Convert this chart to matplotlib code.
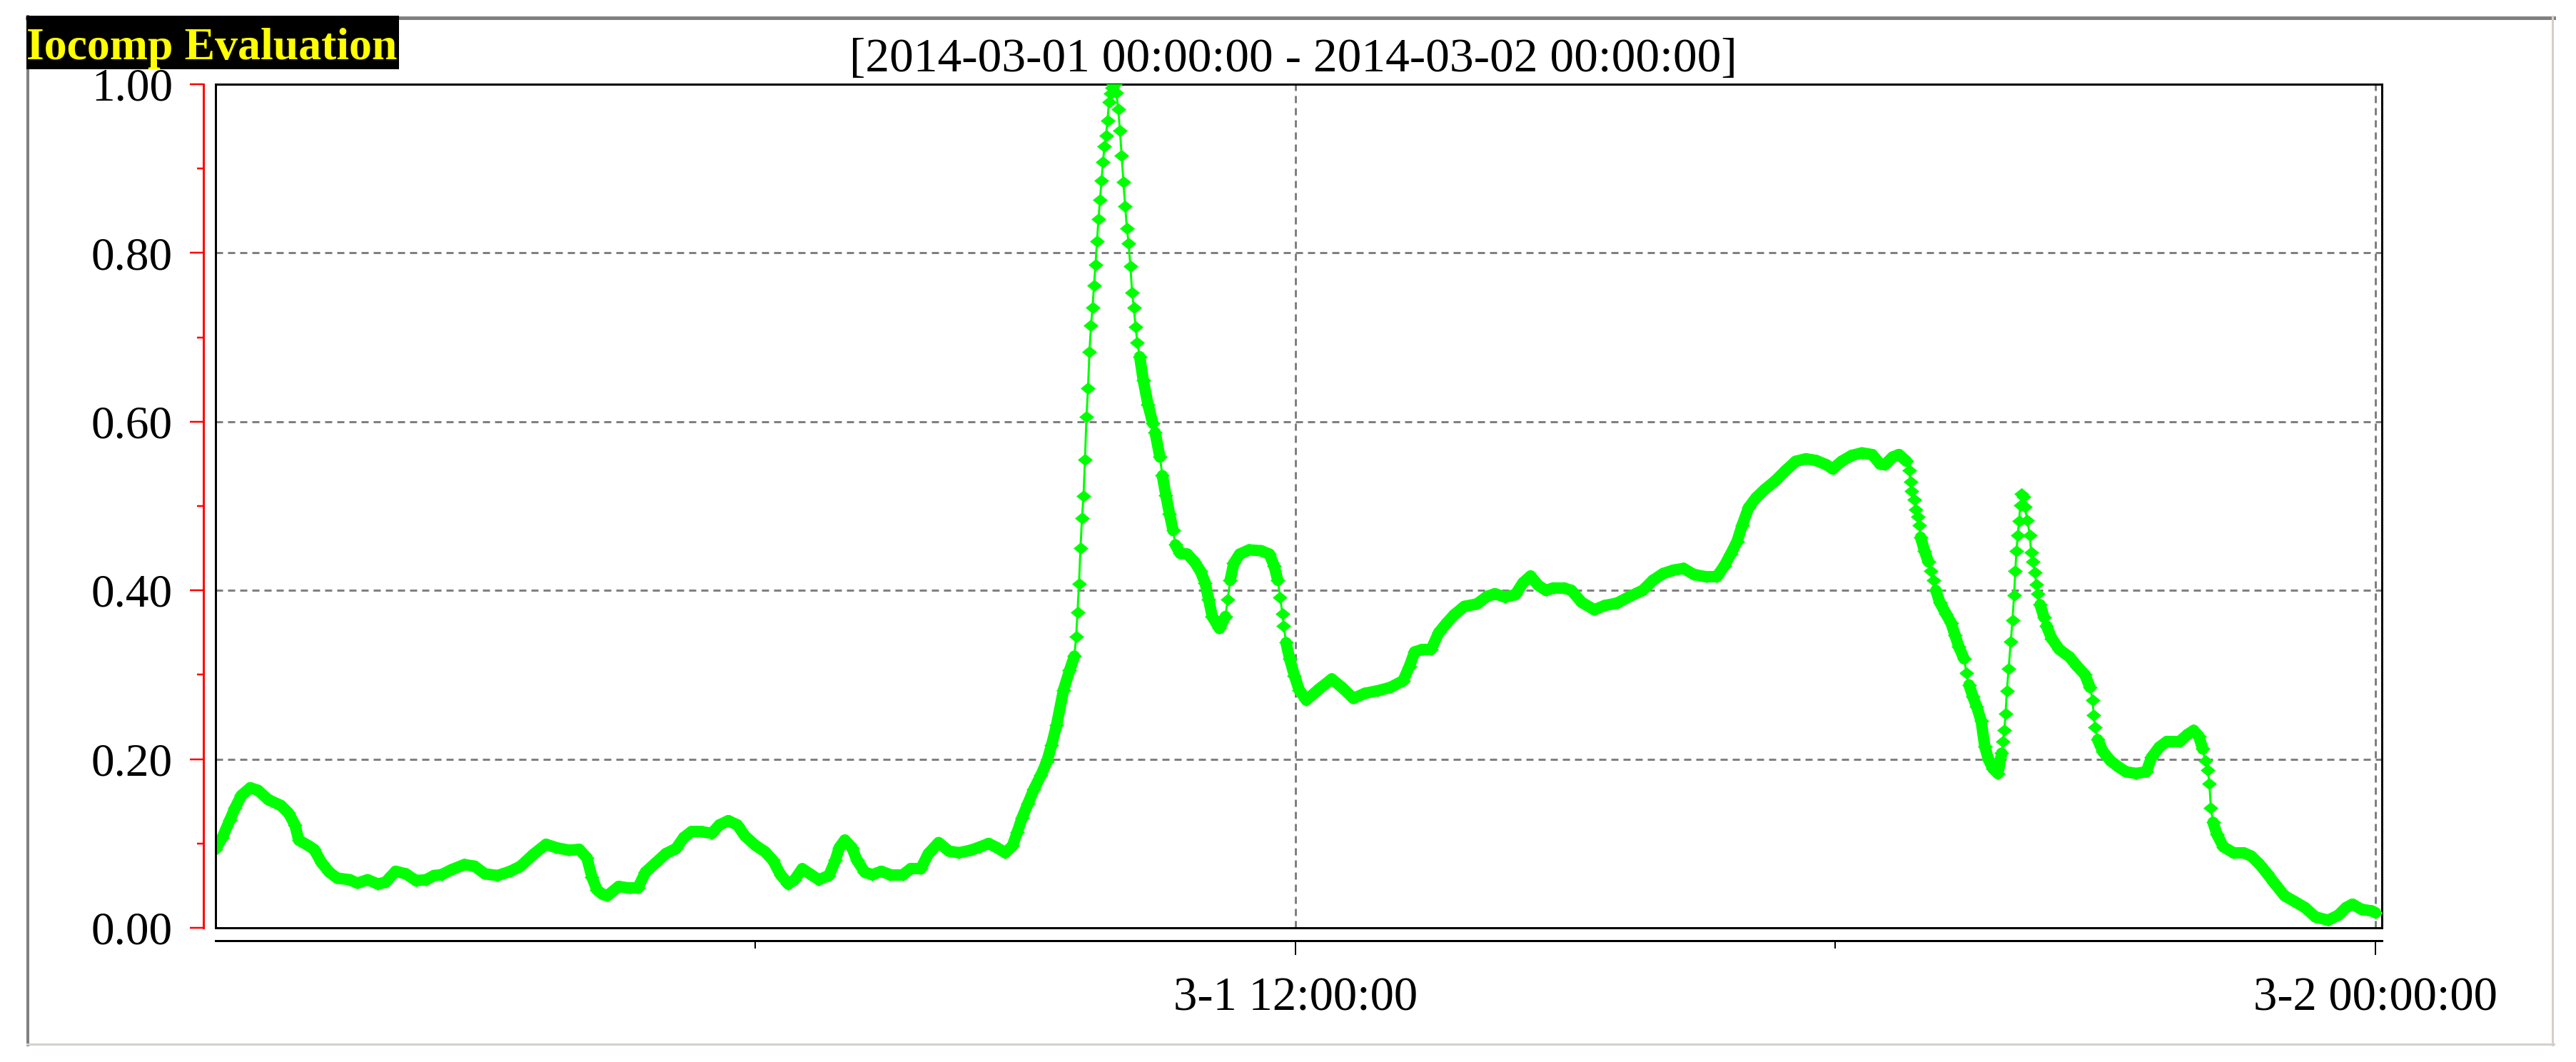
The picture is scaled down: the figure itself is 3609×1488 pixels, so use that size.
import matplotlib
matplotlib.use("Agg")
import matplotlib.pyplot as plt
from matplotlib.lines import Line2D
from matplotlib.patches import Rectangle
from matplotlib.collections import LineCollection

# ---------------- data ----------------
hours = [
    0.000, 0.079, 0.164, 0.220, 0.291, 0.390, 0.475, 0.589, 0.730, 0.815,
    0.886, 0.928, 1.042, 1.098, 1.183, 1.268, 1.353, 1.495, 1.580, 1.693,
    1.806, 1.891, 2.005, 2.118, 2.231, 2.344, 2.430, 2.514, 2.628, 2.769,
    2.883, 2.996, 3.137, 3.279, 3.392, 3.534, 3.676, 3.789, 3.931, 4.044,
    4.129, 4.186, 4.242, 4.300, 4.355, 4.483, 4.610, 4.695, 4.780, 4.894,
    5.007, 5.120, 5.205, 5.290, 5.403, 5.517, 5.602, 5.701, 5.800, 5.885,
    5.998, 6.111, 6.196, 6.281, 6.366, 6.437, 6.522, 6.621, 6.706, 6.819,
    6.890, 6.933, 6.995, 7.074, 7.131, 7.216, 7.301, 7.400, 7.499, 7.641,
    7.726, 7.839, 7.924, 8.037, 8.151, 8.262, 8.394, 8.500, 8.592, 8.685,
    8.778, 8.857, 8.910, 8.963, 9.029, 9.095, 9.174, 9.240, 9.293, 9.347,
    9.425, 9.492, 9.545, 9.565, 9.580, 9.597, 9.613, 9.630, 9.647, 9.663,
    9.680, 9.697, 9.713, 9.730, 9.747, 9.763, 9.780, 9.797, 9.813, 9.830,
    9.847, 9.863, 9.880, 9.897, 9.913, 9.930, 9.947, 9.963, 9.980, 9.997,
    10.013, 10.032, 10.052, 10.071, 10.090, 10.110, 10.129, 10.148, 10.168, 10.187,
    10.206, 10.226, 10.245, 10.271, 10.311, 10.364, 10.417, 10.443, 10.496, 10.523,
    10.562, 10.602, 10.642, 10.668, 10.721, 10.800, 10.879, 10.945, 10.998, 11.038,
    11.077, 11.157, 11.223, 11.249, 11.276, 11.316, 11.382, 11.487, 11.620, 11.712,
    11.765, 11.805, 11.831, 11.857, 11.871, 11.897, 11.937, 11.990, 12.043, 12.122,
    12.263, 12.405, 12.518, 12.645, 12.773, 12.914, 13.056, 13.198, 13.268, 13.325,
    13.410, 13.509, 13.594, 13.679, 13.764, 13.877, 14.019, 14.132, 14.217, 14.330,
    14.444, 14.529, 14.614, 14.699, 14.784, 14.869, 14.982, 15.067, 15.180, 15.322,
    15.435, 15.577, 15.718, 15.860, 15.973, 16.087, 16.200, 16.313, 16.426, 16.568,
    16.681, 16.766, 16.837, 16.908, 16.964, 17.035, 17.120, 17.219, 17.333, 17.446,
    17.559, 17.673, 17.786, 17.899, 17.970, 18.069, 18.182, 18.295, 18.409, 18.494,
    18.550, 18.635, 18.706, 18.791, 18.819, 18.835, 18.848, 18.876, 18.890, 18.918,
    18.933, 18.947, 18.990, 19.032, 19.060, 19.088, 19.117, 19.159, 19.230, 19.287,
    19.329, 19.372, 19.429, 19.457, 19.485, 19.528, 19.571, 19.620, 19.660, 19.700,
    19.749, 19.806, 19.848, 19.863, 19.877, 19.891, 19.905, 19.925, 19.948, 19.968,
    19.985, 19.999, 20.012, 20.026, 20.040, 20.055, 20.070, 20.087, 20.104, 20.133,
    20.161, 20.175, 20.190, 20.218, 20.232, 20.246, 20.275, 20.318, 20.346, 20.403,
    20.488, 20.602, 20.687, 20.773, 20.829, 20.858, 20.870, 20.886, 20.915, 20.972,
    21.057, 21.142, 21.228, 21.341, 21.455, 21.512, 21.597, 21.683, 21.825, 21.910,
    21.981, 22.038, 22.081, 22.109, 22.138, 22.155, 22.172, 22.196, 22.239, 22.310,
    22.424, 22.536, 22.621, 22.707, 22.792, 22.877, 22.991, 23.105, 23.218, 23.332,
    23.474, 23.588, 23.673, 23.745, 23.844, 23.958, 24.000,
]
values = [
    0.093, 0.107, 0.128, 0.142, 0.157, 0.166, 0.163, 0.152, 0.145, 0.136,
    0.122, 0.104, 0.097, 0.093, 0.077, 0.066, 0.059, 0.057, 0.053, 0.057,
    0.052, 0.054, 0.067, 0.064, 0.056, 0.057, 0.062, 0.063, 0.069, 0.075,
    0.073, 0.064, 0.062, 0.067, 0.073, 0.087, 0.099, 0.095, 0.092, 0.093,
    0.083, 0.060, 0.045, 0.040, 0.038, 0.049, 0.047, 0.047, 0.066, 0.077,
    0.088, 0.094, 0.107, 0.114, 0.114, 0.112, 0.122, 0.127, 0.122, 0.109,
    0.098, 0.090, 0.080, 0.063, 0.052, 0.057, 0.070, 0.063, 0.057, 0.062,
    0.080, 0.095, 0.104, 0.095, 0.080, 0.066, 0.063, 0.067, 0.063, 0.063,
    0.070, 0.070, 0.088, 0.101, 0.091, 0.089, 0.092, 0.096, 0.100, 0.095,
    0.089, 0.097, 0.113, 0.130, 0.147, 0.164, 0.181, 0.197, 0.217, 0.240,
    0.282, 0.305, 0.322, 0.345, 0.374, 0.408, 0.450, 0.486, 0.512, 0.555,
    0.606, 0.640, 0.683, 0.714, 0.735, 0.761, 0.786, 0.814, 0.840, 0.863,
    0.886, 0.908, 0.926, 0.939, 0.957, 0.979, 0.989, 0.996, 1.000, 1.000,
    0.990, 0.970, 0.945, 0.915, 0.884, 0.855, 0.829, 0.811, 0.784, 0.753,
    0.735, 0.712, 0.694, 0.677, 0.649, 0.620, 0.598, 0.587, 0.558, 0.536,
    0.513, 0.491, 0.471, 0.454, 0.444, 0.443, 0.434, 0.423, 0.409, 0.389,
    0.369, 0.355, 0.369, 0.389, 0.412, 0.432, 0.443, 0.448, 0.447, 0.443,
    0.429, 0.412, 0.392, 0.372, 0.358, 0.338, 0.319, 0.299, 0.282, 0.270,
    0.283, 0.295, 0.285, 0.272, 0.278, 0.281, 0.285, 0.293, 0.310, 0.327,
    0.330, 0.330, 0.350, 0.361, 0.371, 0.381, 0.384, 0.393, 0.396, 0.392,
    0.395, 0.409, 0.417, 0.406, 0.400, 0.403, 0.403, 0.400, 0.386, 0.377,
    0.382, 0.385, 0.393, 0.400, 0.412, 0.420, 0.424, 0.426, 0.419, 0.416,
    0.416, 0.429, 0.443, 0.458, 0.477, 0.498, 0.510, 0.520, 0.530, 0.542,
    0.553, 0.556, 0.554, 0.549, 0.544, 0.553, 0.560, 0.563, 0.561, 0.550,
    0.549, 0.558, 0.561, 0.553, 0.542, 0.529, 0.518, 0.508, 0.496, 0.487,
    0.477, 0.463, 0.447, 0.434, 0.423, 0.412, 0.400, 0.386, 0.372, 0.361,
    0.347, 0.333, 0.319, 0.302, 0.288, 0.274, 0.262, 0.245, 0.215, 0.200,
    0.189, 0.183, 0.207, 0.221, 0.234, 0.254, 0.281, 0.307, 0.339, 0.365,
    0.394, 0.423, 0.447, 0.465, 0.482, 0.501, 0.514, 0.511, 0.499, 0.483,
    0.465, 0.445, 0.434, 0.421, 0.407, 0.396, 0.383, 0.368, 0.358, 0.343,
    0.330, 0.321, 0.310, 0.300, 0.285, 0.270, 0.252, 0.238, 0.223, 0.209,
    0.198, 0.191, 0.185, 0.183, 0.185, 0.202, 0.214, 0.221, 0.221, 0.229,
    0.234, 0.227, 0.212, 0.198, 0.187, 0.171, 0.142, 0.125, 0.111, 0.096,
    0.089, 0.089, 0.085, 0.076, 0.065, 0.053, 0.038, 0.031, 0.024, 0.013,
    0.009, 0.015, 0.024, 0.028, 0.022, 0.020, 0.018,
]

badge_text = "Iocomp Evaluation"
chart_title = "[2014-03-01 00:00:00 - 2014-03-02 00:00:00]"
y_major = [0.0, 0.2, 0.4, 0.6, 0.8, 1.0]
y_major_labels = ["0.00", "0.20", "0.40", "0.60", "0.80", "1.00"]
y_minor = [0.1, 0.3, 0.5, 0.7, 0.9]
y_grid = [0.2, 0.4, 0.6, 0.8]
x_major = [12, 24]
x_major_labels = ["3-1 12:00:00", "3-2 00:00:00"]
x_minor = [6, 18]
x_grid = [12, 24]

# ---------------- layout ----------------
W, H, DPI = 3609, 1488, 100
PT = 72.0 / DPI  # points per pixel

plt.rcParams["font.family"] = ["Liberation Serif", "DejaVu Serif"]

fig = plt.figure(figsize=(W / DPI, H / DPI), dpi=DPI)
fig.patch.set_facecolor("white")


def fx(px):
    return px / W


def fy(py):
    return 1.0 - py / H


L, R, T, B = 301.5, 3337.0, 118.0, 1300.0
X24 = 3328.0
ax = fig.add_axes([fx(L), fy(B), (R - L) / W, (B - T) / H])
pxh = (X24 - L) / 24.0
ax.set_xlim(0, 24 + (R - X24) / pxh)
ax.set_ylim(0, 1.0)
ax.set_facecolor("white")

# spines
for s in ["top", "right"]:
    ax.spines[s].set_color("black")
    ax.spines[s].set_linewidth(3 * PT)
ax.spines["left"].set_position(("outward", 16.5 * PT))
ax.spines["left"].set_color("red")
ax.spines["left"].set_linewidth(3 * PT)
ax.spines["bottom"].set_position(("outward", 18 * PT))
ax.spines["bottom"].set_color("black")
ax.spines["bottom"].set_linewidth(3 * PT)

# inner black frame edges (left & bottom of the plot area)
ax.plot([0, 0], [0, 1], transform=ax.transAxes, color="black", lw=3 * PT,
        clip_on=False, zorder=6, solid_capstyle="projecting")
ax.plot([0, 1], [0, 0], transform=ax.transAxes, color="black", lw=3 * PT,
        clip_on=False, zorder=6, solid_capstyle="projecting")

# ticks
ax.set_yticks(y_major)
ax.set_yticklabels(y_major_labels)
ax.set_yticks(y_minor, minor=True)
ax.tick_params(axis="y", which="major", direction="out", length=19 * PT,
               width=2.5 * PT, color="red", pad=24 * PT, labelsize=47,
               labelcolor="black")
ax.tick_params(axis="y", which="minor", direction="out", length=9 * PT,
               width=2.5 * PT, color="red")
ax.set_xticks(x_major)
ax.set_xticklabels(x_major_labels)
ax.set_xticks(x_minor, minor=True)
ax.tick_params(axis="x", which="major", direction="out", length=20 * PT,
               width=2 * PT, color="black", pad=30 * PT, labelsize=48)
ax.tick_params(axis="x", which="minor", direction="out", length=11 * PT,
               width=2 * PT, color="black")

# grid
for v in y_grid:
    ax.axhline(v, color="#808080", lw=3 * PT, dashes=(10 / 3, 7 / 3), zorder=1)
for h in x_grid:
    ax.axvline(h, color="#808080", lw=3 * PT, dashes=(10 / 3, 7 / 3), zorder=1)

# data: connecting line (densely sampled stretches drawn as a solid band)
GREEN = "#00FF00"
segs, widths = [], []
for i in range(len(hours) - 1):
    segs.append([(hours[i], values[i]), (hours[i + 1], values[i + 1])])
    dt = hours[i + 1] - hours[i]
    widths.append((3 if dt < 0.03 else 16) * PT)
lc = LineCollection(segs, colors=GREEN, linewidths=widths, capstyle="round",
                    joinstyle="round", zorder=3)
ax.add_collection(lc)
diamond = [(-1, 0), (0, 0.82), (1, 0), (0, -0.82)]
ax.plot(hours, values, linestyle="none", marker=diamond, markersize=21 * PT,
        color=GREEN, markeredgewidth=0, zorder=4)

# outer frame (sunken look)
fig.add_artist(Line2D([fx(38), fx(3578)], [fy(25), fy(25)], color="#808080",
                      lw=5 * PT, transform=fig.transFigure))
fig.add_artist(Line2D([fx(39), fx(39)], [fy(23), fy(1464)], color="#808080",
                      lw=4 * PT, transform=fig.transFigure))
fig.add_artist(Line2D([fx(38), fx(3578)], [fy(1463), fy(1463)], color="#D4D0C8",
                      lw=3 * PT, transform=fig.transFigure))
fig.add_artist(Line2D([fx(3576), fx(3576)], [fy(23), fy(1464)], color="#D4D0C8",
                      lw=3 * PT, transform=fig.transFigure))

# badge
fig.add_artist(Rectangle((fx(37), fy(97)), (559 - 37) / W, (97 - 22) / H,
                         transform=fig.transFigure, facecolor="black",
                         edgecolor="none", zorder=10))
badge = fig.text(fx(37), fy(83), badge_text, color="#FFFF00", fontweight="bold",
                 fontsize=46, ha="left", va="baseline", zorder=11)
title = fig.text(fx(1812), fy(100), chart_title, color="black", fontsize=45,
                 ha="center", va="baseline")

renderer = fig.canvas.get_renderer()
bw = badge.get_window_extent(renderer).width
badge.set_fontsize(46 * 520.0 / bw)
tw = title.get_window_extent(renderer).width
title.set_fontsize(45 * 1243.0 / tw)

fig.savefig("out.png", dpi=DPI, facecolor="white")
